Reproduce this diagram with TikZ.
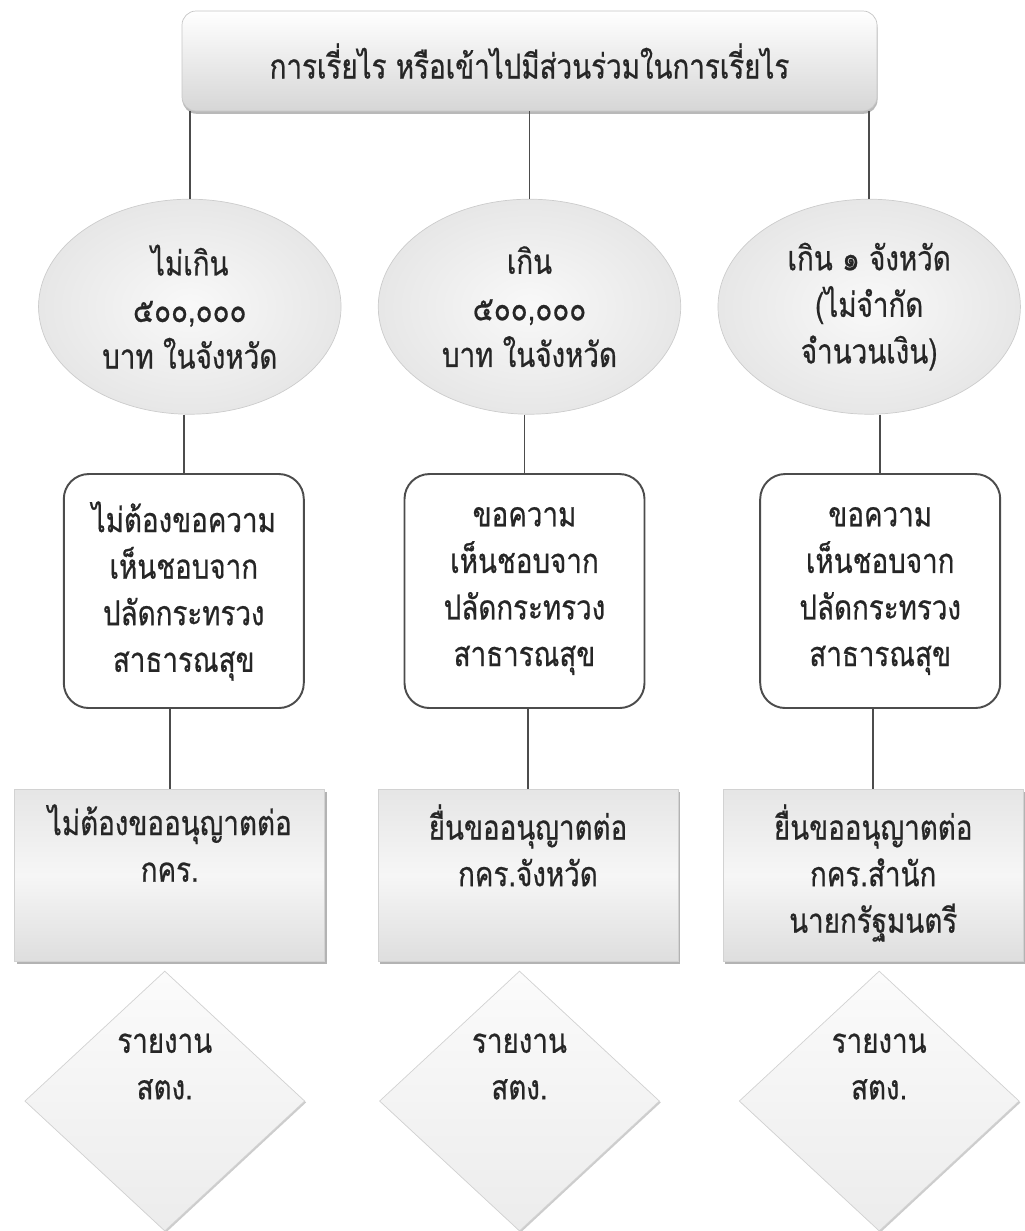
\documentclass[tikz,border=0pt]{standalone}
\usepackage{fontspec}
\newfontfamily\thaifont[Script=Thai, FakeStretch=0.81, FakeBold=0.6]{Loma}
\usepackage{tikz}
\usetikzlibrary{positioning, shapes.geometric, shadows}
\tikzset{%
	thai/.style={font=\thaifont\fontsize{19.5}{26.5}\selectfont, text=black!85},
	title/.style={thai, draw=gray!45, rounded corners=8pt, minimum width=13.9cm,%
		minimum height=2cm, top color=white, bottom color=gray!32,%
		drop shadow={shadow xshift=0.3pt, shadow yshift=-1.6pt, opacity=0.55}},
	amt/.style={thai, ellipse, draw=gray!40, align=center, minimum width=6.05cm,%
		minimum height=4.3cm, inner color=gray!5, outer color=gray!19},
	ask/.style={thai, draw=black!70, line width=1.1pt, fill=white, rounded corners=0.5cm,%
		align=center, minimum width=4.8cm, minimum height=4.68cm},
	lic/.style={thai, rectangle, draw=gray!35, inner sep=0.3cm, minimum width=6cm,%
		minimum height=3.44cm, top color=gray!20, bottom color=gray!26, middle color=gray!7,%
		drop shadow={shadow xshift=1.2pt, shadow yshift=-1.6pt, opacity=0.6},%
		execute at begin node={\begin{minipage}[c][2.84cm][t]{5.4cm}\centering},%
		execute at end node={\end{minipage}}},
	rep/.style={thai, diamond, draw=gray!35, inner sep=0pt, minimum width=5.6cm,%
		minimum height=5.2cm, top color=gray!3, bottom color=gray!15,%
		drop shadow={shadow xshift=0.8pt, shadow yshift=-0.8pt, opacity=0.4},%
		execute at begin node={\begin{minipage}[c][2.7cm][t]{2.4cm}\centering},%
		execute at end node={\end{minipage}}},
	link/.style={draw=black!70, line width=0.9pt}
}

\begin{document}
\begin{tikzpicture}
	\useasboundingbox (0,0) rectangle (20.48,-24.62);
	\node[title] (title) at (10.59,-1.22) {การเรี่ยไร หรือเข้าไปมีส่วนร่วมในการเรี่ยไร};
	\node[amt, below=1.75cm of title] (amt2) {เกิน\\๕๐๐,๐๐๐\\บาท ในจังหวัด};
	\node[amt, left=0.73cm of amt2] (amt1) {ไม่เกิน\\๕๐๐,๐๐๐\\บาท ในจังหวัด};
	\node[amt, right=0.73cm of amt2] (amt3) {เกิน ๑ จังหวัด\\(ไม่จำกัด\\จำนวนเงิน)};

	\node[ask, below=1.17cm of amt1, xshift=-1.2mm] (ask1) {ไม่ต้องขอความ\\เห็นชอบจาก\\ปลัดกระทรวง\\สาธารณสุข};
	\node[ask, below=1.17cm of amt2, xshift=-1mm] (ask2) {ขอความ\\เห็นชอบจาก\\ปลัดกระทรวง\\สาธารณสุข};
	\node[ask, below=1.17cm of amt3, xshift=2.2mm] (ask3) {ขอความ\\เห็นชอบจาก\\ปลัดกระทรวง\\สาธารณสุข};

	\node[lic, below=1.6cm of ask1, xshift=-2.8mm, minimum width=6.2cm] (lic1) {ไม่ต้องขออนุญาตต่อ\\กคร.};
	\node[lic, below=1.6cm of ask2, xshift=0.7mm, minimum width=5.9cm] (lic2) {ยื่นขออนุญาตต่อ\\กคร.จังหวัด};
	\node[lic, below=1.6cm of ask3, xshift=-1.4mm] (lic3) {ยื่นขออนุญาตต่อ\\กคร.สำนัก\\นายกรัฐมนตรี};

	\node[rep, below=0.18cm of lic1, xshift=-1mm] (rep1) {รายงาน\\สตง.};
	\node[rep, below=0.18cm of lic2, xshift=-1.7mm] (rep2) {รายงาน\\สตง.};
	\node[rep, below=0.18cm of lic3, xshift=1.2mm] (rep3) {รายงาน\\สตง.};

	\draw[link] (amt1.north |- title.south) to (amt1.north);
	\draw[link] (amt2.north |- title.south) to (amt2.north);
	\draw[link] (amt3.north |- title.south) to (amt3.north);
	\draw[link] (ask1.north |- amt1.south) to (ask1.north);
	\draw[link] (ask2.north |- amt2.south) to (ask2.north);
	\draw[link] (ask3.north |- amt3.south) to (ask3.north);
	\draw[link] (lic1.north |- ask1.south) to (lic1.north);
	\draw[link] (lic2.north |- ask2.south) to (lic2.north);
	\draw[link] (lic3.north |- ask3.south) to (lic3.north);
\end{tikzpicture}
\end{document}
